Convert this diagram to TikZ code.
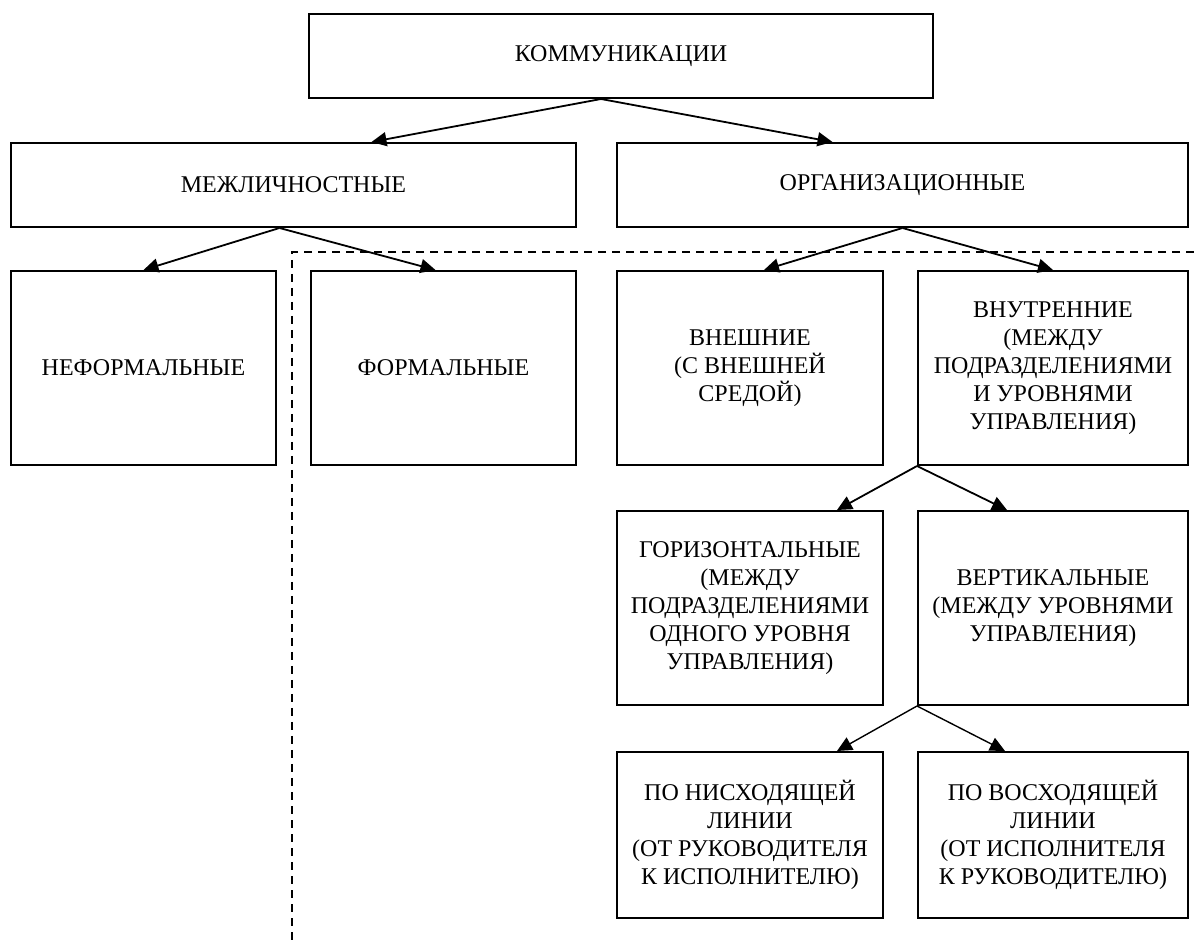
\documentclass[tikz,border=0pt]{standalone}
\usepackage{fontspec}
\setmainfont{Liberation Serif}
\usetikzlibrary{arrows.meta,positioning}

\begin{document}
\begin{tikzpicture}[
  x=0.5pt,y=-0.5pt,
  node distance=22pt,
  b/.style={draw,line width=1pt,inner sep=2pt,align=center,
    font=\fontsize{12}{14}\selectfont},
  b3/.style={b,minimum width=132.5pt,minimum height=97pt},
  b5/.style={b,minimum width=133pt,minimum height=83pt},
  a/.style={-{Triangle[length=7.5pt,width=7pt]},line width=0.9pt},
  sep/.style={dashed,dash pattern=on 4pt off 3pt,line width=0.8pt}
]
\useasboundingbox (0,0) rectangle (1194,940);
\node[b,minimum width=312pt,minimum height=42pt] (komm) at (621,56) {КОММУНИКАЦИИ};
\node[b,minimum width=282.5pt,minimum height=42pt] (mezh) at (293.5,185) {МЕЖЛИЧНОСТНЫЕ};
\node[b,minimum width=285.5pt,minimum height=42pt] (org) at (902.5,185) {ОРГАНИЗАЦИОННЫЕ};
\node[b3] (neform) at (143.5,368) {НЕФОРМАЛЬНЫЕ};
\node[b3] (form) at (443.5,368) {ФОРМАЛЬНЫЕ};
\node[b3,minimum width=133pt] (vnesh) at (750,368) {ВНЕШНИЕ\\(С ВНЕШНЕЙ\\СРЕДОЙ)};
\node[b3,minimum width=135pt] (vnutr) at (1053,368)
  {ВНУТРЕННИЕ\\(МЕЖДУ\\ПОДРАЗДЕЛЕНИЯМИ\\И УРОВНЯМИ\\УПРАВЛЕНИЯ)};
\node[b3,minimum width=133pt,below=of vnesh] (goriz)
  {ГОРИЗОНТАЛЬНЫЕ\\(МЕЖДУ\\ПОДРАЗДЕЛЕНИЯМИ\\ОДНОГО УРОВНЯ\\УПРАВЛЕНИЯ)};
\node[b3,minimum width=135pt,below=of vnutr] (vert)
  {ВЕРТИКАЛЬНЫЕ\\(МЕЖДУ УРОВНЯМИ\\УПРАВЛЕНИЯ)};
\node[b5,below=22.5pt of goriz] (nisx)
  {ПО НИСХОДЯЩЕЙ\\ЛИНИИ\\(ОТ РУКОВОДИТЕЛЯ\\К ИСПОЛНИТЕЛЮ)};
\node[b5,minimum width=135pt,below=22.5pt of vert] (vosx)
  {ПО ВОСХОДЯЩЕЙ\\ЛИНИИ\\(ОТ ИСПОЛНИТЕЛЯ\\К РУКОВОДИТЕЛЮ)};
% connectors
\draw[a] ([xshift=-10pt]komm.south) -- ([xshift=39pt]mezh.north);
\draw[a] ([xshift=-10pt]komm.south) -- ([xshift=-35pt]org.north);
\draw[a] ([xshift=-7pt]mezh.south) -- (neform.north);
\draw[a] ([xshift=-7pt]mezh.south) -- ([xshift=-4pt]form.north);
\draw[a] (org.south) -- ([xshift=7pt]vnesh.north);
\draw[a] (org.south) -- (vnutr.north);
\draw[a] (vnutr.south west) -- ([xshift=43.5pt]goriz.north);
\draw[a] (vnutr.south west) -- ([xshift=-23pt]vert.north);
\draw[a,line width=0.7pt] (vert.south west) -- ([xshift=43.5pt]nisx.north);
\draw[a,line width=0.7pt] (vert.south west) -- ([xshift=-24pt]vosx.north);
% dashed border
\draw[sep] (1194,252) -- (292,252) -- (292,940);
\end{tikzpicture}
\end{document}
